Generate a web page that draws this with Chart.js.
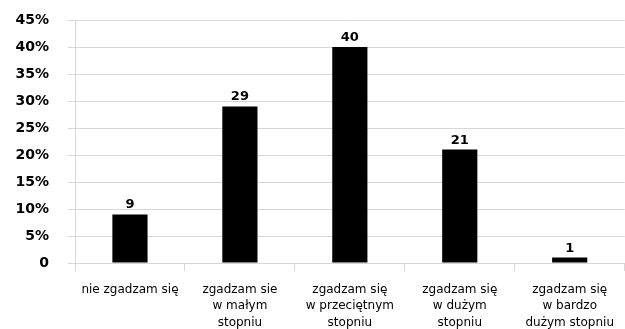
<!DOCTYPE html>
<html>
<head>
<meta charset="utf-8">
<script src="https://cdn.jsdelivr.net/npm/chart.js@4/dist/chart.umd.min.js"></script>
<style>
  html, body { margin: 0; padding: 0; background: #ffffff; }
  #wrap { width: 625px; height: 329px; }
</style>
</head>
<body>
<div id="wrap"><canvas id="chart" width="625" height="329"></canvas></div>
<script>
// Answer categories (multi-line labels under the axis)
const categories = [
  'nie zgadzam się',
  ['zgadzam sie', 'w małym', 'stopniu'],
  ['zgadzam się', 'w przeciętnym', 'stopniu'],
  ['zgadzam się', 'w dużym', 'stopniu'],
  ['zgadzam się', 'w bardzo', 'dużym stopniu']
];

// Share of answers, in percent
const shares = [9, 29, 40, 21, 1];

// Value axis ticks
const yTicks = [0, 5, 10, 15, 20, 25, 30, 35, 40, 45];

const gridColor = '#d6d6d6';

// Writes each bar's value just above it
const valueLabels = {
  id: 'valueLabels',
  afterDatasetsDraw(chart) {
    const ctx = chart.ctx;
    const meta = chart.getDatasetMeta(0);
    ctx.save();
    ctx.font = 'bold 13px "DejaVu Sans"';
    ctx.fillStyle = '#000000';
    ctx.textAlign = 'center';
    ctx.textBaseline = 'alphabetic';
    meta.data.forEach((bar, i) => {
      ctx.fillText(String(shares[i]), bar.x, bar.y - 6);
    });
    ctx.restore();
  }
};

new Chart(document.getElementById('chart'), {
  type: 'bar',
  data: {
    labels: categories,
    datasets: [{
      data: shares,
      backgroundColor: '#000000',
      borderWidth: 0,
      categoryPercentage: 1,
      barPercentage: 0.32
    }]
  },
  options: {
    responsive: false,
    animation: false,
    devicePixelRatio: 1,
    layout: { padding: { top: 20, right: 0, left: 0, bottom: 0 } },
    plugins: {
      legend: { display: false },
      tooltip: { enabled: false }
    },
    scales: {
      x: {
        grid: {
          offset: true,
          drawOnChartArea: false,
          drawTicks: true,
          tickLength: 8,
          // no separator tick at the far right edge
          color: ctx => ctx.index >= categories.length ? 'rgba(0,0,0,0)' : gridColor
        },
        border: { color: gridColor },
        ticks: {
          color: '#000000',
          padding: 11,
          maxRotation: 0,
          autoSkip: false,
          font: { family: '"DejaVu Sans"', size: 12, lineHeight: 1.35 }
        },
        afterFit(scale) { scale.height = 66; }
      },
      y: {
        min: 0,
        max: 45,
        afterBuildTicks(scale) {
          scale.ticks = yTicks.map(v => ({ value: v }));
        },
        grid: {
          color: gridColor,
          tickLength: 7
        },
        border: { color: gridColor },
        ticks: {
          color: '#000000',
          padding: 19,
          font: { family: '"DejaVu Sans"', size: 14, weight: 'bold' },
          callback: v => v === 0 ? '0' : v + '%'
        },
        afterFit(scale) {
          scale.width = 75;
          scale.paddingTop = 0;
          scale.paddingBottom = 0;
        }
      }
    }
  },
  plugins: [valueLabels]
});
</script>
</body>
</html>
